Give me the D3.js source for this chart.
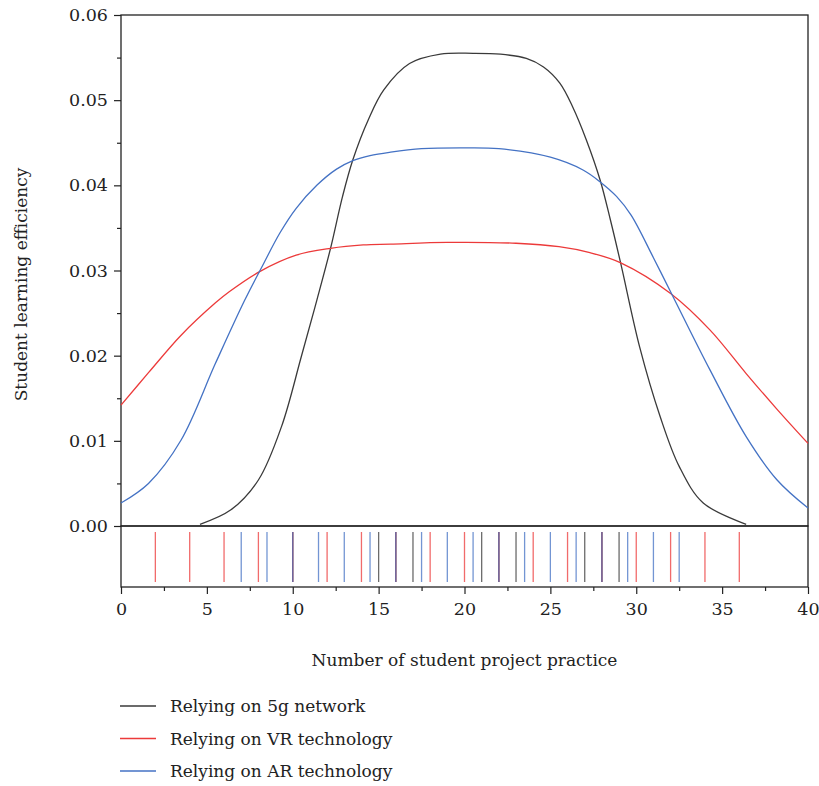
<!DOCTYPE html>
<html>
<head>
<meta charset="utf-8">
<script src="https://cdn.jsdelivr.net/npm/d3@7"></script>
<style>
  body { margin: 0; background: #fff; }
  svg text { fill: #222; }
</style>
</head>
<body>
<div id="chart"></div>
<script>
// density curves (x, value)
var netX = [4.6, 6.4, 8, 9.35, 10.5, 11.4, 12.2, 12.9, 13.5, 14.4, 15.3, 16.8, 18.6, 20.5, 22.1, 23.6, 24.6, 25.55, 26.3, 27.1, 27.9, 28.5, 29.1, 30.2, 31.4, 32.5, 33.9, 36.4];
var netY = [0.0002, 0.0019, 0.0054, 0.0117, 0.0199, 0.0265, 0.0326, 0.0387, 0.0430, 0.0477, 0.0512, 0.0543, 0.0554, 0.0555, 0.0554, 0.0549, 0.0539, 0.0520, 0.0492, 0.0453, 0.0406, 0.0359, 0.0308, 0.0210, 0.0128, 0.0070, 0.0027, 0.0002];

var vrX = [0, 1.6, 3.5, 5.5, 6.3, 8.1, 10.2, 12.2, 14.1, 15.7, 19, 23, 25.5, 27.3, 29.1, 32, 34.3, 36.4, 38.2, 40];
var vrY = [0.0142, 0.0180, 0.0224, 0.0262, 0.0275, 0.0299, 0.0318, 0.0326, 0.0330, 0.0331, 0.0333, 0.0332, 0.0328, 0.0321, 0.0309, 0.0273, 0.0230, 0.0179, 0.0137, 0.0097];

var arX = [0, 1.6, 3.5, 5.5, 7.2, 8.3, 9.25, 10.2, 11.4, 12.55, 13.5, 14.5, 15.7, 17.5, 20, 22, 25, 26.9, 27.9, 28.85, 29.7, 31, 32.1, 34.3, 36.4, 38.2, 40];
var arY = [0.0027, 0.0050, 0.0101, 0.0191, 0.0265, 0.0308, 0.0344, 0.0373, 0.0400, 0.0419, 0.0429, 0.0435, 0.0439, 0.0443, 0.0444, 0.0443, 0.0433, 0.0418, 0.0404, 0.0387, 0.0365, 0.0315, 0.0271, 0.0183, 0.0105, 0.0054, 0.0021];

// rug positions
var netRug = [10, 15, 16, 17, 21, 22, 23, 27, 28, 29];
var vrRug = [2, 4, 6, 8, 10, 12, 14, 16, 18, 20, 22, 24, 26, 28, 30, 32, 34, 36];
var arRug = [7, 8.5, 10, 11.5, 13, 14.5, 16, 17.5, 19, 20.5, 22, 23.5, 25, 26.5, 28, 29.5, 31, 32.5];

var seriesNames = ["Relying on 5g network", "Relying on VR technology", "Relying on AR technology"];
var colors = ["#3a3a3a", "#ec3a3a", "#4472c4"];

var fontFam = "DejaVu Serif";

var margin = {top: 15, right: 11, bottom: 199, left: 121},
    width = 819 - margin.left - margin.right,
    height = 786 - margin.top - margin.bottom;
var rugH = 61,
    plotH = height - rugH;

var svg = d3.select("#chart")
  .append("svg")
    .attr("width", 819)
    .attr("height", 786);

var g = svg.append("g")
    .attr("transform", "translate(" + margin.left + "," + margin.top + ")");

var x = d3.scaleLinear().domain([0, 40]).range([0, width]);
var y = d3.scaleLinear().domain([0, 0.06]).range([plotH, 0]);

// minor ticks
g.append("g")
    .attr("transform", "translate(0," + height + ")")
    .call(d3.axisBottom(x).tickValues(d3.range(2.5, 40, 5)).tickSize(4).tickFormat(""))
    .call(function(a) { a.select(".domain").remove(); });
g.append("g")
    .call(d3.axisLeft(y).tickValues(d3.range(0.005, 0.06, 0.01)).tickSize(4).tickFormat(""))
    .call(function(a) { a.select(".domain").remove(); });

// major axes
var xAxis = g.append("g")
    .attr("transform", "translate(0," + height + ")")
    .call(d3.axisBottom(x).tickValues(d3.range(0, 41, 5)).tickSize(7).tickPadding(9).tickSizeOuter(0));
xAxis.attr("font-family", fontFam).attr("font-size", 17.5);

var yAxis = g.append("g")
    .call(d3.axisLeft(y).tickValues(d3.range(0, 0.061, 0.01)).tickFormat(d3.format(".2f")).tickSize(7).tickPadding(6).tickSizeOuter(0));
yAxis.attr("font-family", fontFam).attr("font-size", 17.5);

g.selectAll(".domain").remove();
g.selectAll(".tick line").attr("stroke", "#222").attr("stroke-width", 1.2);

// frames
g.append("rect")
    .attr("width", width).attr("height", plotH)
    .attr("fill", "none").attr("stroke", "#222").attr("stroke-width", 1.3);
g.append("rect")
    .attr("y", plotH).attr("width", width).attr("height", rugH)
    .attr("fill", "none").attr("stroke", "#222").attr("stroke-width", 1.3);

// rug
var rugs = [netRug, vrRug, arRug];
rugs.forEach(function(r, i) {
  g.selectAll(".rug" + i)
    .data(r)
    .enter()
    .append("line")
      .attr("x1", function(d) { return x(d); })
      .attr("x2", function(d) { return x(d); })
      .attr("y1", plotH + 6)
      .attr("y2", plotH + 56)
      .attr("stroke", colors[i])
      .attr("stroke-width", 1.3)
      .attr("stroke-opacity", 0.75);
});

// curves
var curves = [[netX, netY], [vrX, vrY], [arX, arY]];
var line = d3.line()
    .x(function(d) { return x(d[0]); })
    .y(function(d) { return y(d[1]); })
    .curve(d3.curveCatmullRom.alpha(0.5));

curves.forEach(function(c, i) {
  var pts = c[0].map(function(v, k) { return [v, c[1][k]]; });
  g.append("path")
    .datum(pts)
    .attr("d", line)
    .attr("fill", "none")
    .attr("stroke", colors[i])
    .attr("stroke-width", 1.3);
});

// axis titles
g.append("text")
    .attr("x", width / 2)
    .attr("y", height + 79)
    .attr("text-anchor", "middle")
    .attr("font-family", fontFam)
    .attr("font-size", "17px")
    .text("Number of student project practice");

g.append("text")
    .attr("transform", "rotate(-90)")
    .attr("x", -(plotH / 2) - 14)
    .attr("y", -94)
    .attr("text-anchor", "middle")
    .attr("font-family", fontFam)
    .attr("font-size", "17px")
    .text("Student learning efficiency");

// legend
var legend = svg.append("g")
    .attr("transform", "translate(120,706)");
seriesNames.forEach(function(name, i) {
  var row = legend.append("g").attr("transform", "translate(0," + (i * 32.5) + ")");
  row.append("line")
      .attr("x1", 0).attr("x2", 36)
      .attr("stroke", colors[i])
      .attr("stroke-width", 1.3);
  row.append("text")
      .attr("x", 50)
      .attr("y", 6)
      .attr("font-family", fontFam)
      .attr("font-size", "17px")
      .text(name);
});
</script>
</body>
</html>
